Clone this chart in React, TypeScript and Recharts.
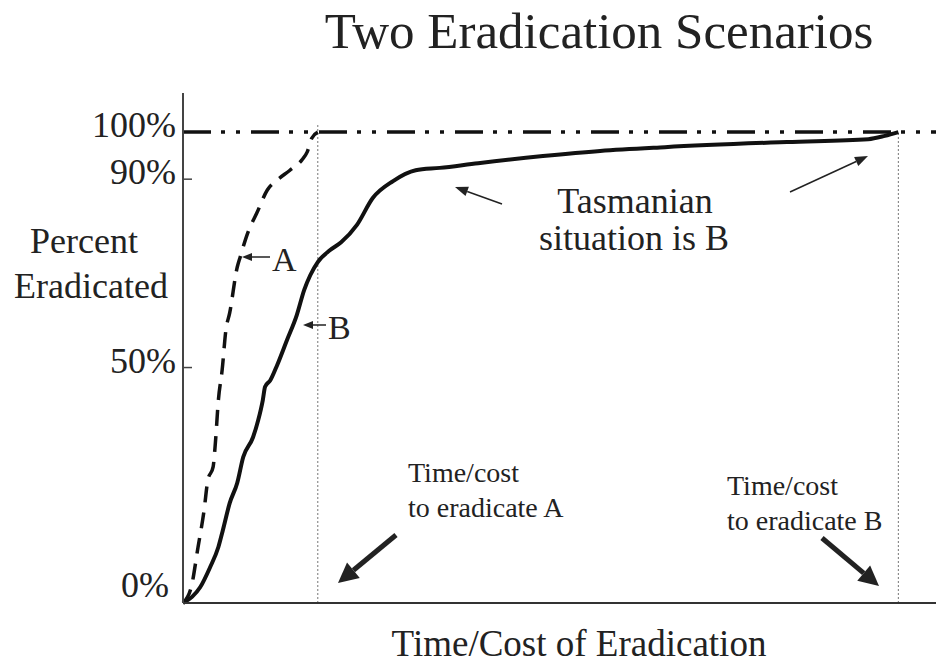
import React from 'react';
import { LineChart, Line, XAxis, YAxis, ReferenceLine } from 'recharts';

// time/cost (0-100 across the plot) and percent eradicated
const timeA = [0, 1.1, 2.0, 2.8, 3.3, 4.0, 4.3, 4.7, 5.2, 5.7, 6.2, 7.2, 7.6, 8.6, 9.8, 11.2, 12.5, 14.2, 15.8, 16.5, 17.1, 17.9];
const pctA = [0, 3.4, 11.9, 19.7, 26.1, 28.9, 34.0, 43.1, 49.5, 58.0, 61.6, 71.3, 73.5, 78.6, 82.8, 87.7, 89.8, 91.9, 94.1, 95.8, 98.7, 100];

const timeB = [0, 1.2, 2.3, 3.6, 4.7, 5.3, 6.2, 7.2, 8.0, 9.3, 10.0, 10.6, 10.9, 11.6, 12.5, 13.8, 15.1, 16.1, 16.9, 17.9, 19.5, 21.0, 23.1, 25.2, 27.9, 30.9, 34.1, 39.2, 47.8, 55.4, 64.0, 80.2, 91.0, 93.2, 95.0];
const pctB = [0, 1.3, 3.4, 7.6, 11.9, 15.5, 21.2, 25.5, 31.0, 35.2, 38.9, 43.1, 45.9, 47.3, 50.5, 55.8, 61.1, 66.5, 69.6, 72.4, 74.9, 76.6, 80.3, 86.0, 89.6, 91.9, 92.4, 93.4, 94.9, 96.0, 96.8, 97.9, 98.5, 99.2, 100];

const yTicks = [0, 50, 90, 100];

const dataA = timeA.map((t, i) => ({ t, pct: pctA[i] }));
const dataB = timeB.map((t, i) => ({ t, pct: pctB[i] }));
const endA = timeA[timeA.length - 1];
const endB = timeB[timeB.length - 1];

const FONT = "'Liberation Serif', 'Times New Roman', serif";

const PercentTick = (props: any) => {
  const { x, y, payload } = props;
  // 0% sits a little above the axis line in the original
  const dy = payload.value === 0 ? -6 : 5;
  return (
    <g>
      {payload.value > 0 && payload.value < 100 && (
        <line x1={x} x2={x + 9} y1={y} y2={y} stroke="#444" strokeWidth={1.5} />
      )}
      <text x={payload.value === 0 ? x - 14 : x - 7} y={y + dy} textAnchor="end" fontSize={36} fontFamily={FONT} fill="#222">
        {payload.value}%
      </text>
    </g>
  );
};

const Arrow = ({ x1, y1, x2, y2, w, len, half }: any) => {
  const a = Math.atan2(y2 - y1, x2 - x1);
  const bx = x2 - len * Math.cos(a);
  const by = y2 - len * Math.sin(a);
  const px = -Math.sin(a) * half;
  const py = Math.cos(a) * half;
  return (
    <g>
      <line x1={x1} y1={y1} x2={bx} y2={by} stroke="#222" strokeWidth={w} />
      <polygon points={`${x2},${y2} ${bx + px},${by + py} ${bx - px},${by - py}`} fill="#222" />
    </g>
  );
};

export default function App() {
  return (
    <div style={{ position: 'absolute', top: 0, left: 0, width: 936, height: 668, background: '#fff', overflow: 'hidden' }}>
      <LineChart width={936} height={668} margin={{ top: 93, right: 0, bottom: 0, left: 0 }}>
        <XAxis type="number" dataKey="t" domain={[0, 100]} tick={false} tickLine={false} height={65}
          axisLine={{ stroke: '#333', strokeWidth: 2 }} />
        <XAxis xAxisId="top" orientation="top" type="number" dataKey="t" domain={[0, 100]} tick={false}
          tickLine={false} height={0} axisLine={{ stroke: '#444', strokeWidth: 2 }} />
        <YAxis type="number" domain={[0, 108.3]} ticks={yTicks} width={183} tickSize={0} tickMargin={0}
          tickLine={false} tick={<PercentTick />} axisLine={{ stroke: '#444', strokeWidth: 2 }} />
        <ReferenceLine y={100} stroke="#111" strokeWidth={3.5} strokeDasharray="28 10 4 11 4 11" />
        <ReferenceLine segment={[{ x: endA, y: 0 }, { x: endA, y: 101.8 }]} stroke="#777" strokeWidth={1} strokeDasharray="2 2" />
        <ReferenceLine segment={[{ x: endB, y: 0 }, { x: endB, y: 100 }]} stroke="#777" strokeWidth={1} strokeDasharray="2 2" />
        <Line data={dataA} dataKey="pct" type="monotone" stroke="#111" strokeWidth={3.5} strokeDasharray="16 10"
          dot={false} isAnimationActive={false} />
        <Line data={dataB} dataKey="pct" type="monotone" stroke="#111" strokeWidth={4} dot={false} isAnimationActive={false} />
      </LineChart>
      <svg width={936} height={668} style={{ position: 'absolute', top: 0, left: 0, pointerEvents: 'none' }}
        fontFamily={FONT} fill="#222">
        <text x={599} y={48} textAnchor="middle" fontSize={51}>Two Eradication Scenarios</text>
        <text x={84} y={253} textAnchor="middle" fontSize={36}>Percent</text>
        <text x={91} y={298} textAnchor="middle" fontSize={36}>Eradicated</text>
        <Arrow x1={270} y1={257} x2={242} y2={257} w={1.5} len={10} half={4} />
        <text x={272} y={271} fontSize={34}>A</text>
        <Arrow x1={326} y1={325} x2={303} y2={325} w={1.5} len={10} half={4} />
        <text x={328} y={339} fontSize={34}>B</text>
        <text x={635} y={213} textAnchor="middle" fontSize={36}>Tasmanian</text>
        <text x={634} y={250} textAnchor="middle" fontSize={36}>situation is B</text>
        <Arrow x1={502} y1={204} x2={455} y2={187} w={1.5} len={13} half={5} />
        <Arrow x1={790} y1={192} x2={868} y2={156} w={1.5} len={13} half={5} />
        <text x={408} y={482} fontSize={28}>Time/cost</text>
        <text x={408} y={517} fontSize={28}>to eradicate A</text>
        <Arrow x1={396} y1={535} x2={338} y2={583} w={5} len={20} half={10} />
        <text x={727} y={495} fontSize={28}>Time/cost</text>
        <text x={727} y={530} fontSize={28}>to eradicate B</text>
        <Arrow x1={822} y1={538} x2={879} y2={586} w={5} len={20} half={10} />
        <text x={579} y={656} textAnchor="middle" fontSize={37}>Time/Cost of Eradication</text>
      </svg>
    </div>
  );
}
